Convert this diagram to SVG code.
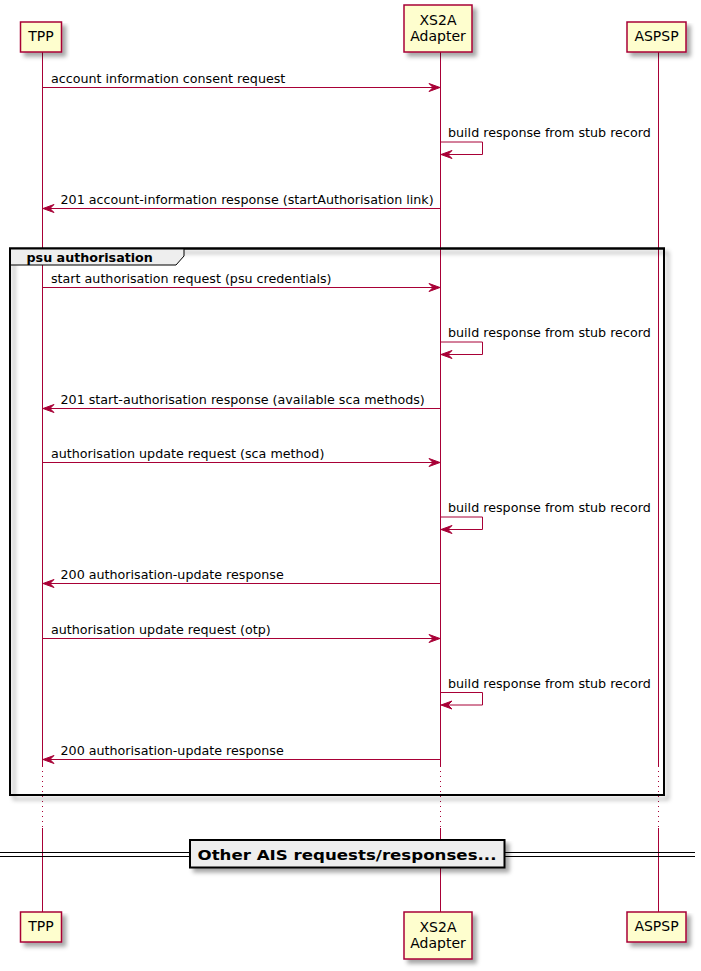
<svg xmlns="http://www.w3.org/2000/svg" width="701" height="971" viewBox="0 0 701 971">
<style>
.pbox{fill:#FEFECE;stroke:#A80036;stroke-width:1.5}
.ptxt{font-family:"DejaVu Sans",sans-serif;font-size:14px;fill:#000;text-anchor:middle}
.life{stroke:#A80036;stroke-width:1;fill:none}
.dot{stroke:#A80036;stroke-width:1;stroke-dasharray:1,4;fill:none}
.msg{stroke:#A80036;stroke-width:1;fill:none}
.head{fill:#A80036;stroke:#A80036;stroke-width:1}
.mtxt{font-family:"DejaVu Sans",sans-serif;font-size:12.7px;fill:#000}
.btxt{font-family:"DejaVu Sans",sans-serif;font-weight:bold;fill:#000}
</style>
<defs>
<filter id="sh" x="-10%" y="-10%" width="130%" height="150%">
<feGaussianBlur in="SourceAlpha" stdDeviation="2"/>
<feColorMatrix type="matrix" values="0 0 0 0 0  0 0 0 0 0  0 0 0 0 0  0 0 0 0.35 0"/>
<feOffset dx="4" dy="4" result="s"/>
<feMerge><feMergeNode in="s"/><feMergeNode in="SourceGraphic"/></feMerge>
</filter>
</defs>
<rect width="701" height="971" fill="#fff"/>

<g id="lifelines">
<line class="life" x1="42.5" y1="52" x2="42.5" y2="767"/>
<line class="dot" x1="42.5" y1="771" x2="42.5" y2="828"/>
<line class="life" x1="42.5" y1="828" x2="42.5" y2="912"/>
<line class="life" x1="440.5" y1="52" x2="440.5" y2="767"/>
<line class="dot" x1="440.5" y1="771" x2="440.5" y2="828"/>
<line class="life" x1="440.5" y1="828" x2="440.5" y2="912"/>
<line class="life" x1="658.5" y1="52" x2="658.5" y2="767"/>
<line class="dot" x1="658.5" y1="771" x2="658.5" y2="828"/>
<line class="life" x1="658.5" y1="828" x2="658.5" y2="912"/>
</g>

<g id="group-psu-authorisation">
<rect x="10" y="248.5" width="654" height="546.5" fill="none" stroke="#000" stroke-width="2" filter="url(#sh)"/>
<path d="M10,248.5 L184,248.5 L184,256 L176,265 L10,265 Z" fill="#EEEEEE" stroke="#000" stroke-width="1"/>
<rect x="10" y="248.5" width="654" height="546.5" fill="none" stroke="#000" stroke-width="2"/>
<text class="btxt" x="26.5" y="261.5" font-size="12.7">psu authorisation</text>
</g>

<g id="connectors">
<line class="msg" x1="42.5" y1="87.5" x2="439" y2="87.5"/>
<polygon class="head" points="440,87.5 429,83.5 433,87.5 429,91.5"/>
<text class="mtxt" x="51" y="83">account information consent request</text>

<polyline class="msg" points="440.5,142 482.5,142 482.5,154.5 442,154.5"/>
<polygon class="head" points="441,154.5 452,150.5 448,154.5 452,158.5"/>
<text class="mtxt" x="448" y="137">build response from stub record</text>

<line class="msg" x1="440.5" y1="208.5" x2="44" y2="208.5"/>
<polygon class="head" points="43,208.5 54,204.5 50,208.5 54,212.5"/>
<text class="mtxt" x="60.5" y="203.5">201 account-information response (startAuthorisation link)</text>

<line class="msg" x1="42.5" y1="287.5" x2="439" y2="287.5"/>
<polygon class="head" points="440,287.5 429,283.5 433,287.5 429,291.5"/>
<text class="mtxt" x="51" y="282.5">start authorisation request (psu credentials)</text>

<polyline class="msg" points="440.5,342 482.5,342 482.5,354.5 442,354.5"/>
<polygon class="head" points="441,354.5 452,350.5 448,354.5 452,358.5"/>
<text class="mtxt" x="448" y="337">build response from stub record</text>

<line class="msg" x1="440.5" y1="408.5" x2="44" y2="408.5"/>
<polygon class="head" points="43,408.5 54,404.5 50,408.5 54,412.5"/>
<text class="mtxt" x="60.5" y="403.5">201 start-authorisation response (available sca methods)</text>

<line class="msg" x1="42.5" y1="462.5" x2="439" y2="462.5"/>
<polygon class="head" points="440,462.5 429,458.5 433,462.5 429,466.5"/>
<text class="mtxt" x="51" y="457.5">authorisation update request (sca method)</text>

<polyline class="msg" points="440.5,517 482.5,517 482.5,529.5 442,529.5"/>
<polygon class="head" points="441,529.5 452,525.5 448,529.5 452,533.5"/>
<text class="mtxt" x="448" y="512">build response from stub record</text>

<line class="msg" x1="440.5" y1="583.5" x2="44" y2="583.5"/>
<polygon class="head" points="43,583.5 54,579.5 50,583.5 54,587.5"/>
<text class="mtxt" x="60.5" y="578.5">200 authorisation-update response</text>

<line class="msg" x1="42.5" y1="638.5" x2="439" y2="638.5"/>
<polygon class="head" points="440,638.5 429,634.5 433,638.5 429,642.5"/>
<text class="mtxt" x="51" y="633.5">authorisation update request (otp)</text>

<polyline class="msg" points="440.5,692.5 482.5,692.5 482.5,705 442,705"/>
<polygon class="head" points="441,705 452,701 448,705 452,709"/>
<text class="mtxt" x="448" y="687.5">build response from stub record</text>

<line class="msg" x1="440.5" y1="759.5" x2="44" y2="759.5"/>
<polygon class="head" points="43,759.5 54,755.5 50,759.5 54,763.5"/>
<text class="mtxt" x="60.5" y="754.5">200 authorisation-update response</text>
</g>

<g id="divider">
<line x1="0" y1="852.5" x2="695" y2="852.5" stroke="#000" stroke-width="1.2"/>
<line x1="0" y1="856.5" x2="695" y2="856.5" stroke="#000" stroke-width="1.2"/>
<rect x="190" y="840" width="314.5" height="27.5" fill="#EEEEEE" stroke="#000" stroke-width="2" filter="url(#sh)"/>
<text class="btxt" x="197.5" y="859.5" font-size="14" textLength="299" lengthAdjust="spacingAndGlyphs">Other AIS requests/responses...</text>
</g>

<g id="TPP">
<rect class="pbox" x="20.5" y="22" width="41" height="30" filter="url(#sh)"/>
<text class="ptxt" x="41" y="41">TPP</text>
</g>
<g id="XS2A">
<rect class="pbox" x="404" y="5" width="68" height="47" filter="url(#sh)"/>
<text class="ptxt" x="438" y="25">XS2A</text>
<text class="ptxt" x="438" y="41">Adapter</text>
</g>
<g id="ASPSP">
<rect class="pbox" x="627" y="22" width="59" height="30" filter="url(#sh)"/>
<text class="ptxt" x="656.5" y="41">ASPSP</text>
</g>
<g id="TPP-bottom">
<rect class="pbox" x="20.5" y="912" width="41" height="30" filter="url(#sh)"/>
<text class="ptxt" x="41" y="931">TPP</text>
</g>
<g id="XS2A-bottom">
<rect class="pbox" x="404" y="912" width="68" height="47" filter="url(#sh)"/>
<text class="ptxt" x="438" y="932">XS2A</text>
<text class="ptxt" x="438" y="948">Adapter</text>
</g>
<g id="ASPSP-bottom">
<rect class="pbox" x="627" y="912" width="59" height="30" filter="url(#sh)"/>
<text class="ptxt" x="656.5" y="931">ASPSP</text>
</g>
</svg>
